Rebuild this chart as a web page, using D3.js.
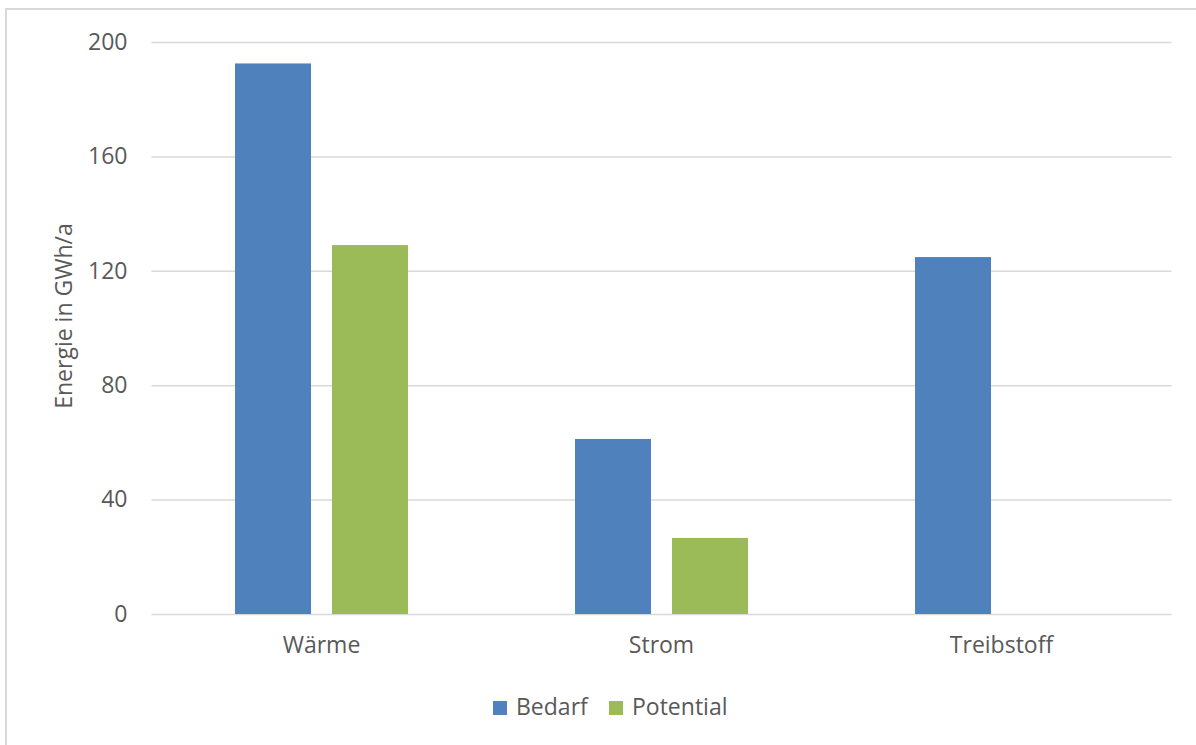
<!DOCTYPE html>
<html>
<head>
<meta charset="utf-8">
<script src="https://cdn.jsdelivr.net/npm/d3@7"></script>
<style>
  html, body { margin: 0; padding: 0; background: #fff; }
  svg { display: block; }
  text { font-family: "Open Sans", "Noto Sans", sans-serif; fill: #595959; }
</style>
</head>
<body>
<svg id="chart" width="1196" height="745"></svg>
<script>
const categories = ["Wärme", "Strom", "Treibstoff"];
const seriesNames = ["Bedarf", "Potential"];
const bedarf = [192.5, 61.2, 124.8];
const potential = [129, 26.6, 0];
const yTicks = [0, 40, 80, 120, 160, 200];
const colors = ["#4f81bd", "#9bbb59"];
const yTitle = "Energie in GWh/a";

const FS = 23;
const svg = d3.select("#chart");
const W = 1196, H = 745;

// chart border
svg.append("rect").attr("x", 6).attr("y", 9).attr("width", W + 10).attr("height", H + 10)
  .attr("fill", "none").attr("stroke", "#d9d9d9").attr("stroke-width", 2);

const plot = { left: 151.5, right: 1171.5, top: 42, bottom: 614 };

const y = d3.scaleLinear().domain([0, 200]).range([plot.bottom, plot.top]);
const x0 = d3.scaleBand().domain(categories).range([plot.left, plot.right]).paddingInner(0).paddingOuter(0);
const groupW = 173;
const off = (x0.bandwidth() - groupW) / 2;
const x1 = d3.scaleBand().domain(seriesNames).range([off, off + groupW]).paddingInner(0.2165).paddingOuter(0);

// gridlines
const yAxis = d3.axisLeft(y).tickValues(yTicks).tickSize(-(plot.right - plot.left)).tickPadding(24).tickFormat(d3.format("d"));
const gy = svg.append("g").attr("transform", `translate(${plot.left},0)`).call(yAxis);
gy.select(".domain").remove();
gy.selectAll(".tick line").attr("stroke", "#d9d9d9").attr("stroke-width", 1.5);
gy.selectAll(".tick text").attr("font-size", FS).attr("fill", "#595959")
  .style("font-family", '"Open Sans", "Noto Sans", sans-serif');

const data = categories.map((c, i) => ({ cat: c, values: [bedarf[i], potential[i]] }));

const groups = svg.append("g").selectAll("g").data(data).join("g")
  .attr("transform", d => `translate(${x0(d.cat)},0)`);
groups.selectAll("rect").data(d => d.values.map((v, j) => ({ name: seriesNames[j], v, j }))).join("rect")
  .attr("x", d => x1(d.name))
  .attr("width", x1.bandwidth())
  .attr("y", d => y(d.v))
  .attr("height", d => y(0) - y(d.v))
  .attr("fill", d => colors[d.j]);

// x axis category labels
const xAxis = d3.axisBottom(x0).tickSize(0).tickPadding(23);
const gx = svg.append("g").attr("transform", `translate(0,${plot.bottom})`).call(xAxis);
gx.select(".domain").remove();
gx.selectAll(".tick text").attr("font-size", FS).attr("fill", "#595959")
  .style("font-family", '"Open Sans", "Noto Sans", sans-serif');

// y axis title
svg.append("text")
  .attr("transform", `translate(72,316) rotate(-90)`)
  .attr("text-anchor", "middle")
  .attr("font-size", FS)
  .text(yTitle);

// legend
const legendX = [493, 609];
const lg = svg.append("g").selectAll("g").data(seriesNames).join("g")
  .attr("transform", (d, i) => `translate(${legendX[i]},701)`);
lg.append("rect").attr("width", 14).attr("height", 14).attr("fill", (d, i) => colors[i]);
lg.append("text").attr("x", 23).attr("y", 14).attr("font-size", FS).text(d => d);
</script>
</body>
</html>
